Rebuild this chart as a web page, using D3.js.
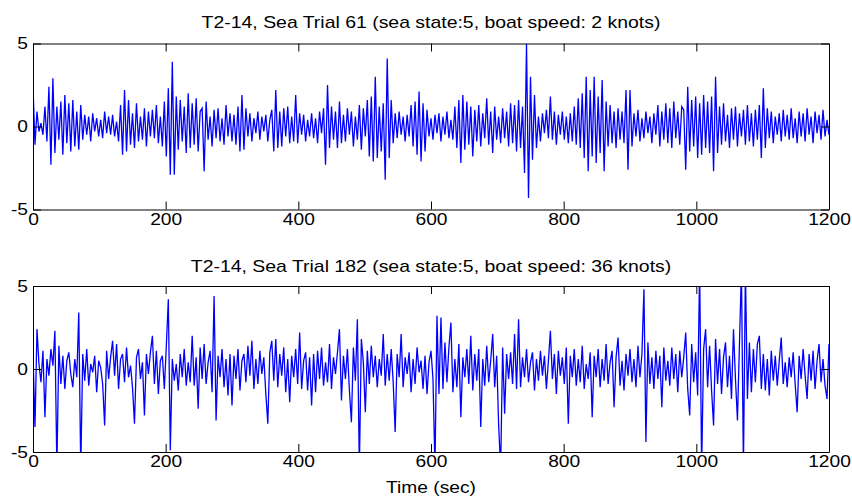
<!DOCTYPE html>
<html>
<head>
<meta charset="utf-8">
<script src="https://cdn.jsdelivr.net/npm/d3@7"></script>
<style>
  body { margin: 0; background: #fff; }
  text { font-family: "Liberation Sans", Arial, sans-serif; fill: #000; }
</style>
</head>
<body>
<script>
// values, one sample every 3 s (t = 0..1200)
var trial61 = [
  2.4,-1.1,0.9,-0.3,0.2,-0.5,1.2,-0.9,2.4,-2.3,2.9,-1.6,1.2,-0.8,1.5,-1.7,1.9,-1.0,1.4,-1.5,
  1.6,-1.2,0.9,-1.4,1.3,-0.8,0.7,-0.5,0.6,-0.9,0.8,-0.3,0.5,-0.6,0.4,-0.7,0.9,-0.4,0.6,-0.5,
  0.7,-0.6,0.3,-0.9,1.3,-1.7,2.2,-1.5,1.6,-1.1,0.8,-1.3,1.4,-0.9,0.6,-0.8,1.1,-1.2,0.9,-0.6,
  1.0,-0.7,1.3,-1.0,0.6,-1.2,1.5,-1.8,2.3,-2.9,3.9,-2.9,1.8,-1.4,1.6,-0.9,1.2,-1.6,2.0,-1.3,
  1.4,-1.1,1.7,-1.5,0.9,1.1,-2.7,1.5,-0.8,0.6,-1.2,1.0,-0.7,1.1,-0.9,0.5,-1.1,1.3,-0.6,0.8,
  -0.9,0.7,-1.1,1.2,-1.5,1.9,-1.4,1.1,-0.6,0.8,-0.9,0.5,-0.4,0.9,-0.8,0.6,-0.3,0.7,-0.9,0.4,
  1.0,-1.5,2.2,-1.3,0.9,-1.2,1.1,-0.6,1.2,-1.0,0.6,-0.9,1.9,-1.0,0.8,-0.5,0.7,-0.9,0.4,-0.6,
  0.8,-0.7,0.5,-1.0,0.9,-0.4,1.1,-2.3,2.5,-1.3,1.2,-0.8,0.9,-1.3,1.5,-1.0,0.7,-0.9,1.1,-0.5,
  0.9,-1.2,0.6,-0.8,1.3,-1.4,1.1,-0.6,1.6,-1.8,1.8,-2.1,3.0,-1.9,1.2,-1.5,1.4,-3.2,4.1,-1.9,
  1.6,-1.0,0.8,-0.7,0.9,-0.5,0.6,-0.9,0.7,-0.6,1.3,-1.2,1.5,-1.7,2.1,-2.1,1.4,-1.5,1.0,-0.6,
  0.5,-0.8,0.7,-0.4,0.8,-0.9,0.6,-0.5,0.9,-0.7,0.4,-0.8,1.2,-1.3,1.6,-2.2,1.9,-1.4,1.5,-1.1,
  1.2,-1.8,1.0,-0.9,1.3,-1.2,0.8,-0.7,1.7,-1.1,0.9,-1.6,1.2,-0.8,0.6,-1.0,1.1,-0.7,0.9,-1.2,
  1.4,-1.0,1.3,-1.5,1.6,-1.3,1.2,-2.8,5.0,-4.3,3.0,-2.0,1.9,-1.3,0.6,-0.9,0.8,-0.4,1.0,-0.7,
  1.8,-0.8,0.9,-1.1,0.7,-0.5,0.9,-0.8,0.6,-1.0,0.8,-0.9,1.2,-1.1,1.7,-1.3,2.0,-1.9,3.0,-2.7,
  2.2,-1.8,3.0,-2.2,1.8,-1.6,2.8,-2.7,1.5,-1.2,1.3,-1.0,0.9,-1.3,1.1,-0.8,0.9,-1.0,2.2,-2.6,
  2.2,-1.2,0.8,-0.6,1.0,-0.9,0.5,-0.7,0.9,-0.4,0.6,-1.0,0.8,-0.5,1.3,-1.2,0.9,-0.8,1.4,-1.0,
  1.1,-1.3,1.5,-0.7,0.9,-1.1,1.2,1.0,-2.6,2.4,-1.5,1.6,-1.2,1.8,-1.9,1.4,-1.7,1.9,-1.3,1.5,
  -1.6,1.8,-2.7,3.0,-1.6,1.2,-1.1,1.4,-0.9,0.7,-1.3,1.1,-0.8,1.2,-1.2,0.8,-0.6,1.0,-1.1,1.3,
  -0.9,0.8,-1.2,1.0,-0.8,1.3,-1.9,2.3,-1.3,1.1,-0.7,0.9,-1.0,0.6,-0.5,0.8,-0.9,1.0,-0.6,0.7,
  -0.8,1.1,-0.7,0.5,-1.0,0.9,-0.6,0.8,-0.9,1.1,-0.5,0.6,-1.0,0.9,-0.4,0.7,-0.8,1.0,-0.6,0.4,
  -0.5
];
var trial182 = [
  0.9,-3.5,2.4,0.3,-0.8,1.1,-2.9,0.6,-0.4,1.2,0.2,2.3,-6,1.4,-0.9,0.8,-1.2,0.5,1.0,-0.3,
  -1.1,0.6,-0.5,3.4,-6,0.9,-0.7,1.2,-1.0,0.3,-0.2,0.8,-1.4,0.5,0.1,-0.9,-3.4,1.1,-0.6,0.7,
  1.7,-0.4,1.5,-1.2,0.6,0.9,-0.8,1.3,-0.5,0.2,-1.1,-3.3,0.7,1.2,-0.6,0.4,-2.8,0.9,-0.3,1.0,
  2.0,-0.9,1.1,-1.5,0.5,0.8,-1.2,1.4,4.2,-4.9,0.6,-0.7,0.3,-1.3,0.9,-0.5,1.2,-1.0,0.4,-0.8,
  2.0,-1.0,0.7,-2.4,1.3,-0.6,1.5,-0.9,0.4,1.1,-1.4,4.4,-3.1,0.8,-0.5,1.2,-1.1,0.6,-1.6,0.9,
  -2.2,0.8,-0.6,1.2,-1.3,0.5,0.9,-0.8,1.4,-0.4,1.7,-1.2,0.6,-0.9,1.1,-0.3,0.7,-1.5,-3.3,1.0,
  1.7,-0.7,1.8,-1.1,0.9,-0.4,1.3,-1.4,0.6,-2.0,0.8,-0.5,1.2,-0.9,2.2,-1.2,0.5,1.0,-1.3,0.7,
  -2.2,0.9,-1.4,1.1,-0.6,1.3,-1.0,0.4,-0.8,1.5,-1.2,0.7,-0.3,1.0,2.4,-1.9,0.8,-0.6,1.2,-1.3,
  -3.2,1.3,-0.7,3.0,-6,1.8,0.4,-2.6,1.1,-0.9,1.4,-0.5,0.8,-1.1,0.6,-0.4,2.1,-1.0,0.9,-0.7,
  1.2,-0.8,-3.8,0.9,-0.5,2.1,-1.1,0.7,-0.3,1.0,-1.4,0.6,-0.9,1.3,-0.2,0.5,-1.2,0.8,-1.5,0.4,
  1.1,-0.6,-6,3.2,-1.5,3.1,-1.2,1.6,-0.8,1.3,2.8,-1.4,0.6,-1.1,1.5,-2.9,0.7,-0.5,1.2,-0.9,
  2.0,-1.3,0.9,-0.7,1.2,-3.5,0.6,-1.0,1.4,-0.8,0.5,2.1,-1.1,0.8,-3.4,-6,1.3,-2.7,0.9,-0.6,
  1.0,-0.9,2.1,-1.2,3.0,-1.1,0.7,-0.5,1.2,-0.8,0.4,1.0,-1.3,0.6,-0.7,1.1,-0.4,0.8,-1.2,0.5,
  2.3,-0.6,0.9,-1.5,1.1,-0.4,0.7,-0.9,1.3,-3.3,0.8,-0.5,1.2,-1.0,0.6,-0.8,1.4,-1.2,0.3,-0.6,
  1.0,-2.9,0.8,-0.5,1.2,-1.1,0.6,-0.7,1.5,-0.9,0.4,1.1,-2.3,0.7,1.9,-1.0,0.5,-1.3,0.9,-0.4,
  1.2,-0.8,0.6,-1.1,1.4,-0.5,0.9,4.8,-4.4,1.6,-0.9,0.7,-1.2,1.1,-0.6,0.8,-2.3,1.3,-0.7,0.5,
  -1.0,1.3,-0.6,0.9,-1.4,1.1,-0.5,0.7,2.2,-1.2,-2.8,1.5,-0.8,1.0,-1.6,6,-6,1.2,2.4,-1.1,
  1.4,-1.3,-3.4,1.8,-0.9,1.2,-1.5,0.7,1.6,-1.1,0.8,-1.8,2.4,-0.6,-3.1,1.5,6,-6,6,-1.8,
  1.6,-1.4,1.2,-0.8,1.5,2.0,-1.2,0.9,-1.3,0.6,-1.6,1.1,-0.7,0.8,-1.0,0.5,1.9,-0.9,0.4,-1.1,
  0.7,-0.5,1.0,-0.9,-2.6,0.8,-0.6,1.2,-0.4,-1.8,0.9,-0.7,1.1,-1.2,0.5,1.5,-0.8,0.6,-1.0,-1.8,
  1.5
];
var step = 3;
var xTicks = [0, 200, 400, 600, 800, 1000, 1200];
var yTicks = [-5, 0, 5];
var titles = [
  "T2-14, Sea Trial 61 (sea state:5, boat speed: 2 knots)",
  "T2-14, Sea Trial 182 (sea state:5, boat speed: 36 knots)"
];
var xLabel = "Time (sec)";

var W = 852, H = 498,
    left = 33, right = 829,
    stretch = 1.2,   // the original picture is a bit wider than tall
    tick = 8;

var svg = d3.select("body").append("svg")
    .attr("width", W)
    .attr("height", H);

svg.append("rect").attr("width", W).attr("height", H).attr("fill", "#fff");

var x = d3.scaleLinear().domain([0, 1200]).range([left, right]);
var plain = function(d) { return String(d); };   // "-5" with a hyphen, "1200" without comma

function panel(i, values, top, bottom, titleY) {
    var y = d3.scaleLinear().domain([-5, 5]).range([bottom, top]);

    var clipId = "clip" + i;
    svg.append("clipPath").attr("id", clipId)
      .append("rect")
        .attr("x", left).attr("y", top)
        .attr("width", right - left).attr("height", bottom - top);

    var line = d3.line()
        .x(function(d, k) { return x(k * step); })
        .y(function(d) { return y(d); });

    svg.append("path")
        .datum(values)
        .attr("clip-path", "url(#" + clipId + ")")
        .attr("fill", "none")
        .attr("stroke", "#0000ff")
        .attr("stroke-width", 1.3)
        .attr("d", line);

    // box + inward ticks on all four sides, labels only bottom/left
    var gb = svg.append("g").attr("transform", "translate(0," + bottom + ")")
        .call(d3.axisBottom(x).tickValues(xTicks).tickSizeInner(-tick).tickSizeOuter(0).tickPadding(4).tickFormat(plain));
    var gt = svg.append("g").attr("transform", "translate(0," + top + ")")
        .call(d3.axisTop(x).tickValues(xTicks).tickSizeInner(-tick).tickSizeOuter(0).tickFormat(""));
    var gl = svg.append("g").attr("transform", "translate(" + left + ",0)")
        .call(d3.axisLeft(y).tickValues(yTicks).tickSizeInner(-tick).tickSizeOuter(0).tickPadding(5).tickFormat(plain));
    var gr = svg.append("g").attr("transform", "translate(" + right + ",0)")
        .call(d3.axisRight(y).tickValues(yTicks).tickSizeInner(-tick).tickSizeOuter(0).tickFormat(""));

    [gb, gt, gl, gr].forEach(function(g) {
        g.select(".domain").attr("stroke", "#000");
        g.selectAll(".tick line").attr("stroke", "#000");
        g.selectAll(".tick text")
            .attr("font-family", "Liberation Sans, Arial, sans-serif")
            .attr("font-size", 16)
            .attr("fill", "#000")
            .attr("transform", "scale(" + stretch + ",1)");
    });
    gl.selectAll(".tick text").attr("x", -5 / stretch);

    svg.append("text")
        .attr("transform", "translate(" + ((left + right) / 2) + "," + titleY + ") scale(" + stretch + ",1)")
        .attr("text-anchor", "middle")
        .attr("font-size", 16.2)
        .text(titles[i]);
}

panel(0, trial61, 43.5, 209.5, 28);
panel(1, trial182, 286, 452, 272);

svg.append("text")
    .attr("transform", "translate(" + ((left + right) / 2) + ",493) scale(" + stretch + ",1)")
    .attr("text-anchor", "middle")
    .attr("font-size", 16)
    .text(xLabel);
</script>
</body>
</html>
